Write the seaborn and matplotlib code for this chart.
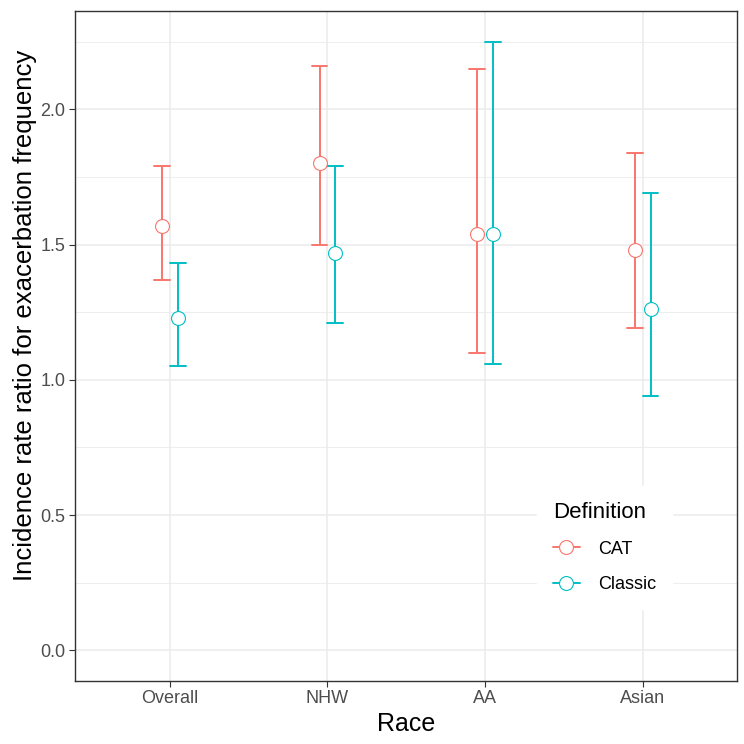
import numpy as np
import pandas as pd
import matplotlib
matplotlib.use('Agg')
import matplotlib.pyplot as plt
from matplotlib.lines import Line2D
from matplotlib.ticker import MultipleLocator
import seaborn as sns

races = ['Overall', 'NHW', 'AA', 'Asian']
definitions = ['CAT', 'Classic']
cat_est = [1.57, 1.80, 1.54, 1.48]
cat_lo = [1.37, 1.50, 1.10, 1.19]
cat_hi = [1.79, 2.16, 2.15, 1.84]
classic_est = [1.23, 1.47, 1.54, 1.26]
classic_lo = [1.05, 1.21, 1.06, 0.94]
classic_hi = [1.43, 1.79, 2.25, 1.69]
palette = {'CAT': '#F8766D', 'Classic': '#00BFC4'}

# long table: lower / estimate / upper per group -> median & min-max interval
rows = []
for d, est, lo, hi in [('CAT', cat_est, cat_lo, cat_hi),
                       ('Classic', classic_est, classic_lo, classic_hi)]:
    for r, e, l, h in zip(races, est, lo, hi):
        for v in (l, e, h):
            rows.append({'Race': r, 'Definition': d, 'IRR': v})
df = pd.DataFrame(rows)

sns.set_style('white')
plt.rcParams['font.family'] = ['Liberation Sans', 'DejaVu Sans']

fig = plt.figure(figsize=(7.44, 7.44), dpi=100)
ax = fig.add_axes([0.101, 0.085, 0.890, 0.900])

sns.pointplot(data=df, x='Race', y='IRR', hue='Definition', order=races,
              hue_order=definitions, palette=palette, estimator='median',
              errorbar=('pi', 100), dodge=0.1, capsize=0.1, linestyle='none',
              markers='o', markersize=10, markerfacecolor='white',
              markeredgewidth=0.8, zorder=4, legend=False,
              err_kws={'linewidth': 1.4, 'linestyle': '-', 'zorder': 3}, ax=ax)

ax.set_xlim(-0.6, 3.6)
ax.set_ylim(-0.1125, 2.3625)
ax.yaxis.set_major_locator(MultipleLocator(0.5))
ax.yaxis.set_minor_locator(MultipleLocator(0.25))
ax.yaxis.set_major_formatter(matplotlib.ticker.FormatStrFormatter('%.1f'))

ax.grid(True, which='major', color='#EBEBEB', linewidth=1.1, zorder=0)
ax.grid(True, which='minor', axis='y', color='#EBEBEB', linewidth=0.6, zorder=0)
ax.set_axisbelow(True)
for s in ax.spines.values():
    s.set_color('#333333')
    s.set_linewidth(1.0)

ax.tick_params(axis='both', which='major', length=4, width=0.8, color='#333333',
               labelsize=13, labelcolor='#4D4D4D', pad=3, left=True, bottom=True)
ax.tick_params(axis='y', which='minor', length=0)

ax.set_xlabel('Race', fontsize=18, color='black', labelpad=3)
ax.set_ylabel('Incidence rate ratio for exacerbation frequency', fontsize=18.5,
              color='black')
ax.yaxis.set_label_coords(-0.058, 0.546)

handles = [Line2D([0], [0], color=palette[d], marker='o', markersize=10,
                  markerfacecolor='white', markeredgewidth=0.8, linewidth=1.4)
           for d in definitions]
leg = ax.legend(handles, definitions, title='Definition', loc='lower right',
                bbox_to_anchor=(0.902, 0.107), frameon=True, fontsize=13,
                title_fontsize=16, handlelength=1.5, labelspacing=1.0,
                borderpad=0.9, handletextpad=1.0, borderaxespad=0,
                labelcolor='black')
leg.get_title().set_color('black')
leg.get_frame().set_facecolor('white')
leg.get_frame().set_edgecolor('white')
leg.get_frame().set_alpha(1)
leg._legend_box.align = 'left'

fig.savefig('out.png', dpi=100)
